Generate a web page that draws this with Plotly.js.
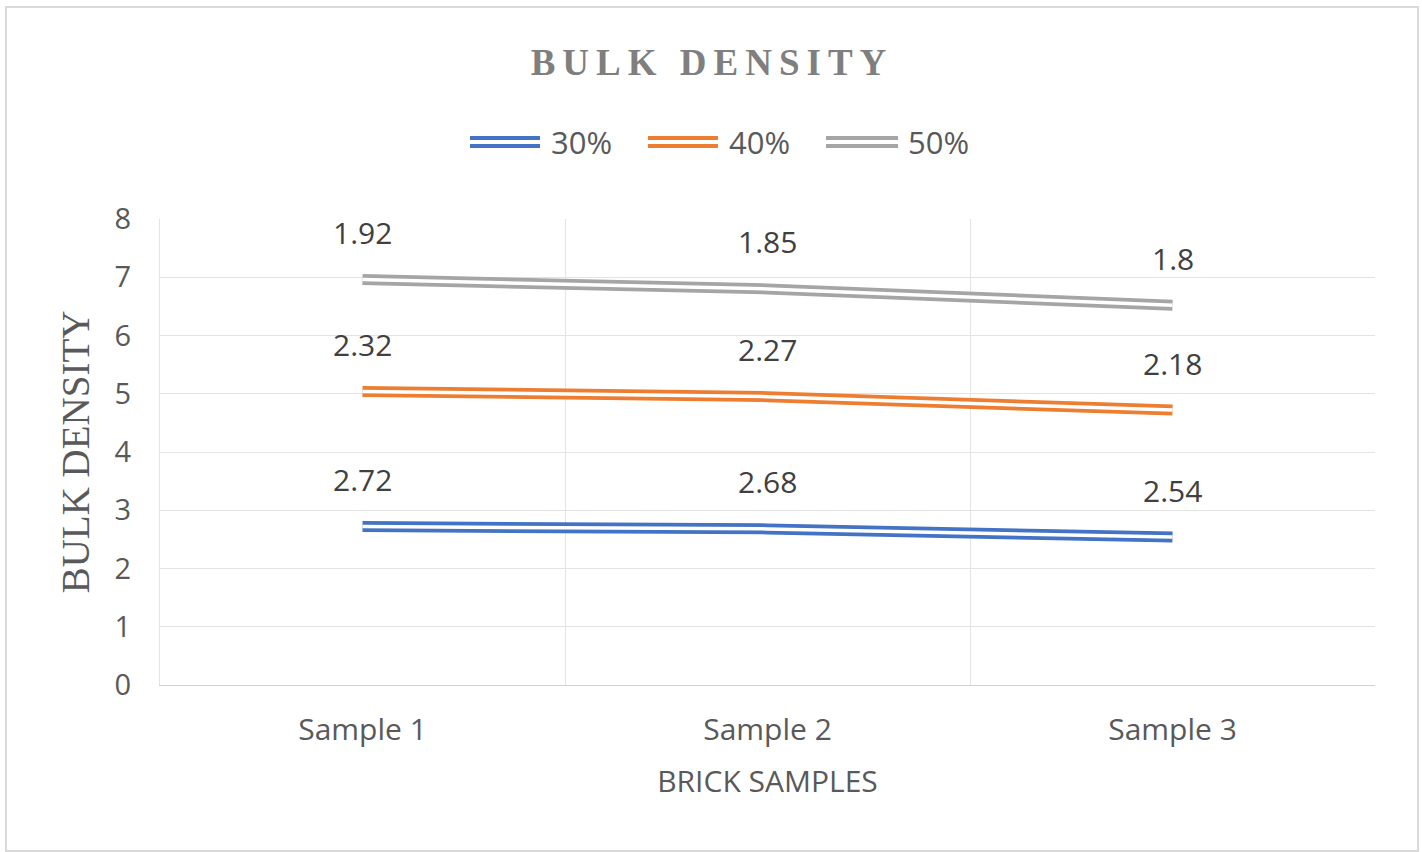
<!DOCTYPE html>
<html>
<head>
<meta charset="utf-8">
<script src="https://cdn.plot.ly/plotly-3.0.1.min.js"></script>
<style>
  html, body { margin: 0; padding: 0; background: #ffffff; }
  #wrap { position: absolute; left: 5px; top: 6px; width: 1410px; height: 842px; border: 2px solid #d9d9d9; }
  #chart { width: 1410px; height: 842px; }
  .gtitle { letter-spacing: 7px; }
</style>
</head>
<body>
<div id="wrap"><div id="chart"></div></div>
<script>
// ---- data ----
const categories = ["Sample 1", "Sample 2", "Sample 3"];
const seriesNames = ["30%", "40%", "50%"];
const s30 = [2.72, 2.68, 2.54];
const s40 = [2.32, 2.27, 2.18];
const s50 = [1.92, 1.85, 1.8];
const yTicks = [0, 1, 2, 3, 4, 5, 6, 7, 8];

const seriesValues = [s30, s40, s50];
const colors = ["#4472C4", "#ED7D31", "#A5A5A5"];
const xIdx = categories.map((c, i) => i);

const traces = [];
// coloured thick lines (stacked)
seriesValues.forEach((vals, k) => {
  traces.push({
    x: xIdx, y: vals, name: seriesNames[k], type: 'scatter', mode: 'lines',
    stackgroup: 'c', fill: 'none',
    line: { color: colors[k], width: 11 },
    showlegend: false, hoverinfo: 'skip'
  });
});
// white inner lines -> double-line look
seriesValues.forEach((vals, k) => {
  traces.push({
    x: xIdx, y: vals, name: seriesNames[k] + ' inner', type: 'scatter', mode: 'lines',
    stackgroup: 'w', fill: 'none',
    line: { color: '#ffffff', width: 3.5 },
    showlegend: false, hoverinfo: 'skip'
  });
});

// data labels above stacked points
const annotations = [];
const cum = categories.map(() => 0);
seriesValues.forEach((vals, k) => {
  vals.forEach((v, i) => {
    cum[i] += v;
    annotations.push({
      x: xIdx[i], y: cum[i], xref: 'x', yref: 'y', text: String(v),
      showarrow: false, yshift: 47, yanchor: 'middle',
      font: { family: 'Open Sans', size: 30, color: '#404040' }
    });
  });
});

// manual legend (double lines)
const shapes = [];
const plotL = 153, plotW = 1215, plotT = 211, plotH = 466;
const legY = 1 + (plotT - 134) / plotH;
const legItems = [[463, 533, 542], [641, 711, 720], [819, 891, 899]];
seriesNames.forEach((nm, k) => {
  const [a, b, t] = legItems[k];
  const x0 = (a - plotL) / plotW, x1 = (b - plotL) / plotW;
  shapes.push({ type: 'line', xref: 'paper', yref: 'paper', x0, x1, y0: legY, y1: legY,
    line: { color: colors[k], width: 12 } });
  shapes.push({ type: 'line', xref: 'paper', yref: 'paper', x0, x1, y0: legY, y1: legY,
    line: { color: '#ffffff', width: 4 } });
  annotations.push({ xref: 'paper', yref: 'paper', x: (t - plotL) / plotW, y: legY,
    xanchor: 'left', yanchor: 'middle', showarrow: false, text: nm,
    font: { family: 'Open Sans', size: 31, color: '#595959' } });
});

const layout = {
  width: 1410, height: 842,
  margin: { l: 153, r: 42, t: 211, b: 165 },
  paper_bgcolor: '#ffffff', plot_bgcolor: '#ffffff',
  showlegend: false,
  title: {
    text: 'BULK DENSITY', x: 0.5, xanchor: 'center', y: 1 - 54 / 842, yanchor: 'middle', yref: 'container',
    font: { family: 'Liberation Serif', size: 37, color: '#7f7f7f', weight: 'bold' }
  },
  xaxis: {
    range: [-0.5, 2.5], tickmode: 'array', tickvals: xIdx, ticktext: categories,
    showgrid: false, zeroline: false, showline: true, linecolor: '#d0d0d0', linewidth: 1,
    ticks: '', ticklabelstandoff: 18,
    tickfont: { family: 'Open Sans', size: 30, color: '#595959' },
    minor: { tickmode: 'linear', tick0: 0.5, dtick: 1, showgrid: true, gridcolor: '#e3e3e3', gridwidth: 1, ticks: '' },
    title: { text: 'BRICK SAMPLES', standoff: 22, font: { family: 'Open Sans', size: 30, color: '#595959' } },
    fixedrange: true
  },
  yaxis: {
    range: [0, 8], tickmode: 'array', tickvals: yTicks,
    showgrid: true, gridcolor: '#e3e3e3', gridwidth: 1, zeroline: false,
    showline: true, linecolor: '#e3e3e3', linewidth: 1,
    ticks: '', ticklabelstandoff: 22,
    tickfont: { family: 'Open Sans', size: 29, color: '#595959' },
    title: { text: 'BULK DENSITY', standoff: 12, font: { family: 'Liberation Serif', size: 39, color: '#595959' } },
    fixedrange: true
  },
  annotations, shapes
};

Plotly.newPlot('chart', traces, layout, { displayModeBar: false, staticPlot: true });
</script>
</body>
</html>
